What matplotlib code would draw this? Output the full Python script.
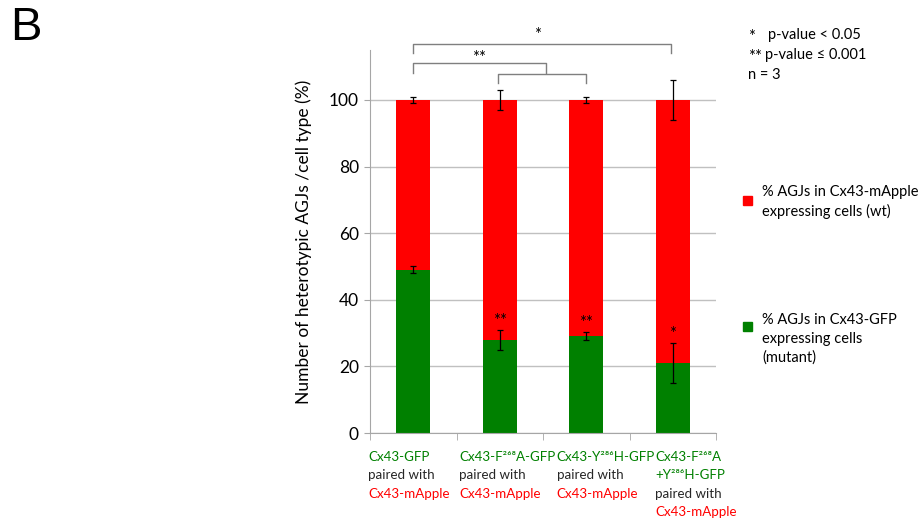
import numpy as np
import matplotlib.pyplot as plt
from matplotlib.transforms import blended_transform_factory

plt.rcParams['font.family'] = ['Lato', 'DejaVu Sans']

# data
mutant_labels = ['Cx43-GFP', 'Cx43-F\u00b2\u2076\u2078A-GFP', 'Cx43-Y\u00b2\u2078\u2076H-GFP',
                 'Cx43-F\u00b2\u2076\u2078A\n+Y\u00b2\u2078\u2076H-GFP']
green_vals = [49, 28, 29, 21]
green_err = [1, 3, 1.2, 6]
red_err = [1, 3, 1, 6]
bar_marks = ['', '**', '**', '*']
red_vals = [100 - g for g in green_vals]

RED = '#ff0000'
GREEN = '#008000'
GREY = '#a6a6a6'

fig = plt.figure(figsize=(9.21, 5.18), dpi=100)
ax = fig.add_axes([370 / 921, 1 - 433 / 518, 346 / 921, 383 / 518])

x = np.arange(len(green_vals))
w = 0.39
ax.bar(x, green_vals, w, color=GREEN, zorder=2)
ax.bar(x, red_vals, w, bottom=green_vals, color=RED, zorder=2)
ax.errorbar(x, green_vals, yerr=green_err, fmt='none', ecolor='black', elinewidth=0.9, capsize=2, capthick=0.9, zorder=3)
tops = [g + r for g, r in zip(green_vals, red_vals)]
ax.errorbar(x, tops, yerr=red_err, fmt='none', ecolor='black', elinewidth=0.9, capsize=2, capthick=0.9, zorder=3)

for xi, g, e, m in zip(x, green_vals, green_err, bar_marks):
    if m:
        ax.text(xi, g + e + 0.3, m, ha='center', va='bottom', fontsize=12, zorder=4)

ax.set_xlim(-0.5, 3.5)
ax.set_ylim(0, 115)
ax.set_yticks(np.arange(0, 101, 20))
ax.yaxis.grid(True, color='#c0c0c0', lw=1)
ax.set_axisbelow(True)
ax.tick_params(axis='y', length=4, color=GREY, labelsize=12.5, pad=4)
ax.set_xticks([])
ax.set_xticks(np.arange(-0.5, 4, 1), minor=True)
ax.tick_params(axis='x', which='minor', length=5, color=GREY)
for s in ['top', 'right']:
    ax.spines[s].set_visible(False)
for s in ['left', 'bottom']:
    ax.spines[s].set_color(GREY)
ax.set_ylabel('Number of heterotypic AGJs /cell type (%)', fontsize=12.5, labelpad=12)

# significance brackets
def bracket(x0, x1, y, h, txt=None, tx=None, ty=None):
    ax.plot([x0, x0, x1, x1], [y - h, y, y, y - h], color='#7f7f7f', lw=1, clip_on=False)
    if txt:
        ax.text(tx, ty, txt, ha='center', va='center', fontsize=12)

bracket(0, 2.98, 116.8, 2.7, '*', 1.44, 119.5)
bracket(0, 1.53, 111.1, 3.0, '**', 0.76, 112.5)
bracket(0.98, 2.0, 107.8, 2.7)

# x category labels
label_x = [-0.52, 0.53, 1.66, 2.80]
tr = blended_transform_factory(ax.transData, fig.transFigure)
for lx, lab in zip(label_x, mutant_labels):
    lines = [(l, GREEN) for l in lab.split('\n')] + [('paired with', '#262626'), ('Cx43-mApple', RED)]
    for i, (t, c) in enumerate(lines):
        fig.text(lx, 1 - (457 + 18.3 * i) / 518, t, color=c, fontsize=9.6,
                 va='center', ha='left', transform=tr)

# legend
fig.patches.append(plt.Rectangle((743 / 921, 1 - 205 / 518), 9 / 921, 9 / 518, color=RED, transform=fig.transFigure))
fig.text(762 / 921, 1 - 202 / 518, '% AGJs in Cx43-mApple\nexpressing cells (wt)', fontsize=10.5, va='center', linespacing=1.45)
fig.patches.append(plt.Rectangle((743 / 921, 1 - 331 / 518), 9 / 921, 9 / 518, color=GREEN, transform=fig.transFigure))
fig.text(762 / 921, 1 - 339 / 518, '% AGJs in Cx43-GFP\nexpressing cells\n(mutant)', fontsize=10.5, va='center', linespacing=1.45)

# notes
fig.text(748 / 921, 1 - 37 / 518, '*', fontsize=12, va='center')
fig.text(768 / 921, 1 - 35 / 518, 'p-value < 0.05', fontsize=10.5, va='center')
fig.text(748 / 921, 1 - 57 / 518, '**', fontsize=12, va='center')
fig.text(765 / 921, 1 - 55 / 518, 'p-value \u2264 0.001', fontsize=10.5, va='center')
fig.text(748 / 921, 1 - 75 / 518, 'n = 3', fontsize=10.5, va='center')

fig.text(10 / 921, 1 - 28 / 518, 'B', fontsize=34, va='center', ha='left', family='Liberation Sans')

fig.savefig('out.png', dpi=100)
